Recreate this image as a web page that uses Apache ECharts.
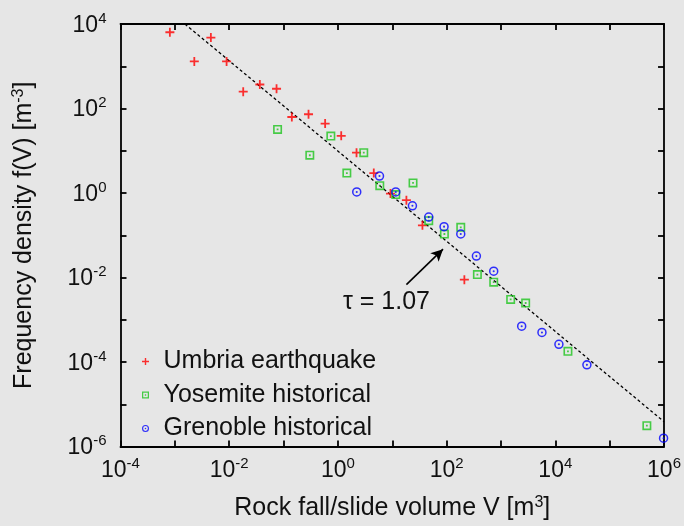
<!DOCTYPE html>
<html>
<head>
<meta charset="utf-8">
<script src="https://cdn.jsdelivr.net/npm/echarts@6/dist/echarts.min.js"></script>
<style>
  html, body { margin: 0; padding: 0; background: #e6e6e6; }
  #main { width: 684px; height: 526px; }
</style>
</head>
<body>
<div id="main"></div>
<script>
  // Umbria earthquake
  var umbriaV = [8.1e-4, 2.28e-3, 4.6e-3, 8.95e-3, 0.0181, 0.0366, 0.0743, 0.142, 0.288, 0.582, 1.15, 2.2, 4.57, 9.27, 18.2, 35.9, 212];
  var umbriaF = [6380, 1300, 4760, 1300, 250, 370, 293, 63, 73, 44, 22.6, 9.0, 2.96, 0.97, 0.675, 0.172, 0.0089];
  // Yosemite historical
  var yosemiteV = [0.0776, 0.304, 0.741, 2.99, 1.46, 5.89, 11.6, 24.1, 46.9, 91, 182, 368, 735, 1507, 2844, 17060, 4.83e5];
  var yosemiteF = [32, 7.83, 22.2, 9.0, 2.96, 1.49, 0.916, 1.73, 0.221, 0.107, 0.154, 0.0117, 0.00774, 0.00303, 0.00249, 1.79e-4, 3.11e-6];
  // Grenoble historical
  var grenobleV = [2.22, 5.82, 11.6, 23.5, 46.9, 89.7, 182, 353, 735, 2404, 5675, 11640, 38100, 9.8e5];
  var grenobleF = [1.06, 2.52, 1.06, 0.498, 0.269, 0.16, 0.107, 0.0321, 0.0141, 7.03e-4, 5.0e-4, 2.62e-4, 8.55e-5, 1.57e-6];
  // fitted power law, tau = 1.07
  var fitV = [0.00153, 1e6];
  var fitF = [1e4, 3.86e-6];
  var arrowFrom = [18.2, 0.0068];
  var arrowTo = [85.9, 0.0469];

  // axes run in decades, so the values go in as log10
  function lg(v) { return Math.log10(v); }
  function pairs(xs, ys) {
    var out = [];
    for (var i = 0; i < xs.length; i++) out.push([lg(xs[i]), lg(ys[i])]);
    return out;
  }

  var plusPath = 'path://M4,0H6V4H10V6H6V10H4V6H0V4H4Z';
  var boxPath = 'path://M0,0H10V10H0Z M1.8,1.8V8.2H8.2V1.8Z M4,4H6V6H4Z';
  var ringPath = 'path://M5,0A5,5 0 1,1 5,10A5,5 0 1,1 5,0Z M5,1.6A3.4,3.4 0 1,0 5,8.4A3.4,3.4 0 1,0 5,1.6Z M5,3.9A1.1,1.1 0 1,1 5,6.1A1.1,1.1 0 1,1 5,3.9Z';

  function powLabel(e) {
    e = Math.round(e);
    if (e % 2 !== 0) return '';
    return '{b|10}{s|' + e + '}';
  }
  var labelRich = {
    b: { fontSize: 23, color: '#111', fontFamily: 'Liberation Sans', lineHeight: 26, verticalAlign: 'bottom' },
    s: { fontSize: 15, color: '#111', fontFamily: 'Liberation Sans', lineHeight: 26, verticalAlign: 'top' }
  };
  var lineStyle = { color: '#000', width: 1.8 };

  function decadeAxis(lo, hi, extra) {
    var a = {
      type: 'value',
      min: lo,
      max: hi,
      interval: 1,
      axisLine: { onZero: false, lineStyle: lineStyle },
      axisTick: { inside: true, length: 6, lineStyle: lineStyle },
      axisLabel: { show: false },
      splitLine: { show: false }
    };
    for (var k in extra) a[k] = extra[k];
    return a;
  }

  var nameStyle = {
    fontSize: 25, color: '#111', fontFamily: 'Liberation Sans',
    rich: { s: { fontSize: 16, color: '#111', fontFamily: 'Liberation Sans', verticalAlign: 'top', lineHeight: 28 } }
  };

  var myChart = echarts.init(document.getElementById('main'));
  var option = {
    backgroundColor: '#e6e6e6',
    animation: false,
    grid: { left: 120.5, right: 19.5, top: 24, bottom: 76 },
    legend: {
      orient: 'vertical',
      left: 137,
      top: 344,
      itemWidth: 26,
      itemHeight: 7,
      itemGap: 8.5,
      textStyle: { fontSize: 25, color: '#111', fontFamily: 'Liberation Sans' },
      data: ['Umbria earthquake', 'Yosemite historical', 'Grenoble historical']
    },
    xAxis: [
      decadeAxis(-4, 6, {
        name: 'Rock fall/slide volume V [m{s|3}]',
        nameLocation: 'middle',
        nameGap: 48,
        nameTextStyle: nameStyle,
        axisLabel: { show: true, formatter: powLabel, rich: labelRich, margin: 10 }
      }),
      decadeAxis(-4, 6, { position: 'top' })
    ],
    yAxis: [
      decadeAxis(-6, 4, {
        name: 'Frequency density f(V) [m{s|-3}]',
        nameLocation: 'middle',
        nameRotate: 90,
        nameGap: 82,
        nameTextStyle: nameStyle,
        axisLabel: { show: true, formatter: powLabel, rich: labelRich, margin: 14 }
      }),
      decadeAxis(-6, 4, { position: 'right' })
    ],
    graphic: [{
      type: 'text',
      left: 343,
      top: 290,
      style: { text: 'τ = 1.07', fontSize: 25, fill: '#111', fontFamily: 'Liberation Sans' }
    }],
    series: [{
      name: 'fit',
      type: 'line',
      data: pairs(fitV, fitF),
      symbol: 'none',
      lineStyle: { color: '#000', width: 1.3, type: [3, 2.5] },
      z: 1,
      markLine: {
        silent: true,
        symbol: ['none', 'arrow'],
        symbolSize: [9, 12],
        label: { show: false },
        lineStyle: { color: '#000', width: 1.6, type: 'solid' },
        data: [[{ coord: [lg(arrowFrom[0]), lg(arrowFrom[1])] }, { coord: [lg(arrowTo[0]), lg(arrowTo[1])] }]]
      }
    }, {
      name: 'Umbria earthquake',
      type: 'scatter',
      data: pairs(umbriaV, umbriaF),
      symbol: plusPath,
      symbolSize: 9,
      itemStyle: { color: '#ff0000' },
      z: 3
    }, {
      name: 'Yosemite historical',
      type: 'scatter',
      data: pairs(yosemiteV, yosemiteF),
      symbol: boxPath,
      symbolSize: 9,
      itemStyle: { color: '#1ec41e' },
      z: 3
    }, {
      name: 'Grenoble historical',
      type: 'scatter',
      data: pairs(grenobleV, grenobleF),
      symbol: ringPath,
      symbolSize: 9.5,
      itemStyle: { color: '#0000ff' },
      z: 3
    }]
  };
  myChart.setOption(option);
</script>
</body>
</html>
